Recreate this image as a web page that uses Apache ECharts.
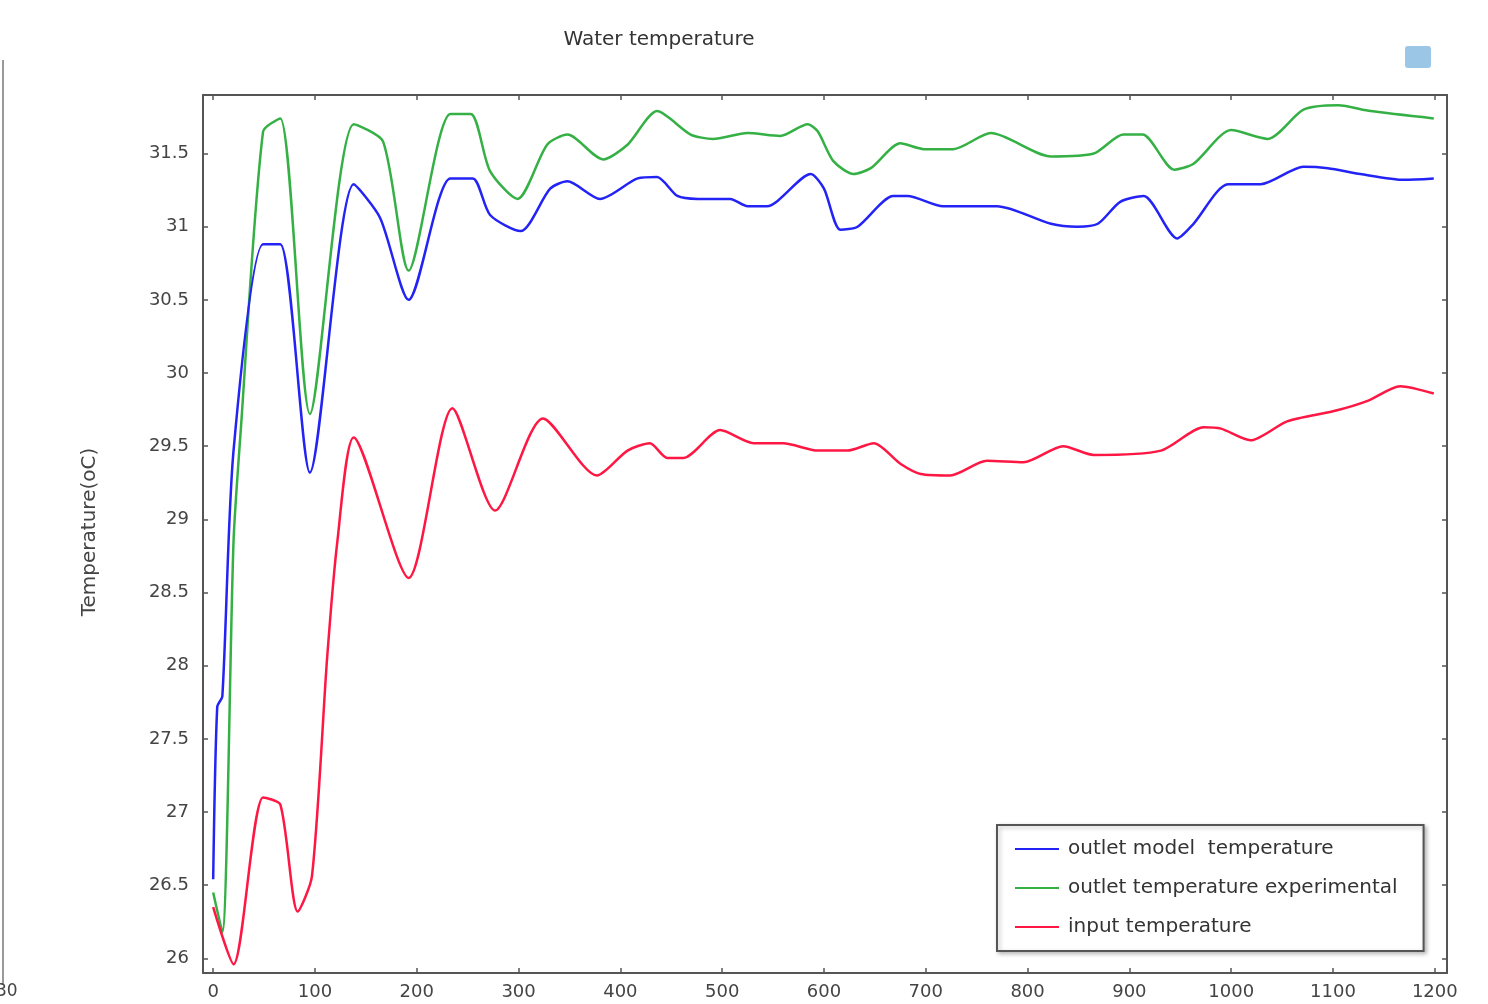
<!DOCTYPE html>
<html>
<head>
<meta charset="utf-8">
<script src="https://cdn.jsdelivr.net/npm/echarts@6/dist/echarts.min.js"></script>
<style>
html,body{margin:0;padding:0;background:#fff;}
#c{width:1488px;height:1004px;}
</style>
</head>
<body>
<div id="c"></div>
<script>
const titleText = 'Water temperature';
const yAxisTitle = 'Temperature(oC)';
const seriesNames = ['outlet model  temperature', 'outlet temperature experimental', 'input temperature'];

const timeModel = [0, 4, 9, 20, 49, 66, 95, 138, 164, 192, 233, 255, 272, 302, 331, 348, 380, 417, 436, 456, 476, 508, 525, 544, 587, 600, 616, 633, 668, 682, 717, 754, 770, 823, 849, 869, 891, 914, 947, 963, 997, 1029, 1071, 1095, 1127, 1170, 1199];
const tempModel = [26.54, 27.72, 27.79, 29.47, 30.88, 30.88, 29.32, 31.29, 31.06, 30.50, 31.33, 31.33, 31.08, 30.97, 31.26, 31.31, 31.19, 31.33, 31.34, 31.21, 31.19, 31.19, 31.14, 31.14, 31.36, 31.26, 30.98, 31.00, 31.21, 31.21, 31.14, 31.14, 31.14, 31.02, 31.00, 31.02, 31.17, 31.21, 30.92, 31.02, 31.29, 31.29, 31.41, 31.40, 31.36, 31.32, 31.33];

const timeExp = [0, 9, 20, 27, 49, 66, 95, 138, 167, 192, 233, 253, 272, 299, 328, 348, 383, 407, 436, 469, 491, 525, 557, 584, 594, 609, 629, 646, 675, 698, 727, 764, 823, 865, 894, 913, 944, 963, 1000, 1036, 1071, 1105, 1137, 1199];
const tempExp = [26.45, 26.18, 28.85, 29.6, 31.65, 31.74, 29.72, 31.70, 31.58, 30.70, 31.77, 31.77, 31.38, 31.19, 31.56, 31.63, 31.46, 31.56, 31.79, 31.63, 31.60, 31.64, 31.62, 31.70, 31.65, 31.45, 31.36, 31.40, 31.57, 31.53, 31.53, 31.64, 31.48, 31.50, 31.63, 31.63, 31.39, 31.43, 31.66, 31.60, 31.80, 31.83, 31.79, 31.74];

const timeInput = [0, 20, 49, 66, 83, 97, 112, 122, 138, 192, 235, 277, 324, 377, 407, 429, 446, 462, 498, 531, 560, 594, 623, 649, 675, 695, 724, 760, 796, 835, 865, 931, 973, 990, 1019, 1055, 1101, 1134, 1166, 1199];
const tempInput = [26.35, 25.96, 27.10, 27.05, 26.32, 26.56, 28.06, 28.85, 29.56, 28.60, 29.76, 29.06, 29.69, 29.30, 29.47, 29.52, 29.42, 29.42, 29.61, 29.52, 29.52, 29.47, 29.47, 29.52, 29.38, 29.31, 29.30, 29.40, 29.39, 29.50, 29.44, 29.47, 29.63, 29.62, 29.54, 29.67, 29.74, 29.81, 29.91, 29.86];

const colors = ['#2323f5', '#35b045', '#ff1744'];

function zip(xs, ys){ return xs.map((x,i)=>[x, ys[i]]); }

const chart = echarts.init(document.getElementById('c'));
const axisColor = '#555';
const labelStyle = {color:'#444', fontFamily:'DejaVu Sans', fontSize:18};

const xCommon = {
  type:'value', min:-10, max:1212, splitNumber:12,
  axisLine:{show:true, onZero:false, lineStyle:{color:axisColor, width:2}},
  axisTick:{show:true, inside:true, length:5, lineStyle:{color:axisColor, width:1.5}},
  splitLine:{show:false}
};
const yCommon = {
  type:'value', min:25.9, max:31.9, splitNumber:12,
  axisLine:{show:true, onZero:false, lineStyle:{color:axisColor, width:2}},
  axisTick:{show:true, inside:true, length:5, lineStyle:{color:axisColor, width:1.5}},
  splitLine:{show:false}
};

const option = {
  backgroundColor:'#fff',
  animation:false,
  title:{text:titleText, left:654, top:25, textAlign:'center',
    textStyle:{color:'#333', fontFamily:'DejaVu Sans', fontSize:20, fontWeight:'normal'}},
  grid:{left:203, right:41, top:95, bottom:31},
  xAxis:[
    Object.assign({}, xCommon, {position:'bottom',
      axisLabel:{show:true, showMinLabel:false, showMaxLabel:false, margin:10,
        formatter:(v)=>String(v), ...labelStyle}}),
    Object.assign({}, xCommon, {position:'top', axisLabel:{show:false}})
  ],
  yAxis:[
    Object.assign({}, yCommon, {position:'left',
      axisLabel:{show:true, showMinLabel:false, showMaxLabel:false, margin:14, ...labelStyle}}),
    Object.assign({}, yCommon, {position:'right', axisLabel:{show:false}})
  ],
  legend:{
    orient:'vertical', left:997, top:825,
    backgroundColor:'#fff', borderColor:'#555', borderWidth:2,
    padding:[14, 26, 14, 18], itemGap:19,
    itemWidth:44, itemHeight:2, icon:'rect',
    shadowColor:'rgba(0,0,0,0.25)', shadowBlur:4, shadowOffsetX:2, shadowOffsetY:2,
    textStyle:{color:'#333', fontFamily:'DejaVu Sans', fontSize:20, lineHeight:20, padding:[0,0,0,4]},
    data:seriesNames
  },
  graphic:[
    {type:'text', x:90, y:532, rotation:Math.PI/2,
      style:{text:yAxisTitle, fill:'#444', font:'20px "DejaVu Sans"', textAlign:'center', textVerticalAlign:'middle'}},
    {type:'rect', shape:{x:1405, y:46, width:26, height:22, r:3}, style:{fill:'#9cc6e6'}},
    {type:'line', shape:{x1:3, y1:60, x2:3, y2:985}, style:{stroke:'#999', lineWidth:2}},
    {type:'text', x:-4, y:992, style:{text:'30', fill:'#444', font:'17px "DejaVu Sans"', textVerticalAlign:'middle'}}
  ],
  series:[
    {name:seriesNames[0], type:'line', data:zip(timeModel, tempModel), smooth:0.25, showSymbol:false,
      lineStyle:{color:colors[0], width:2.5}, itemStyle:{color:colors[0]}, z:3},
    {name:seriesNames[1], type:'line', data:zip(timeExp, tempExp), smooth:0.25, showSymbol:false,
      lineStyle:{color:colors[1], width:2.5}, itemStyle:{color:colors[1]}, z:2},
    {name:seriesNames[2], type:'line', data:zip(timeInput, tempInput), smooth:0.25, showSymbol:false,
      lineStyle:{color:colors[2], width:2.5}, itemStyle:{color:colors[2]}, z:2}
  ]
};
chart.setOption(option);
</script>
</body>
</html>
